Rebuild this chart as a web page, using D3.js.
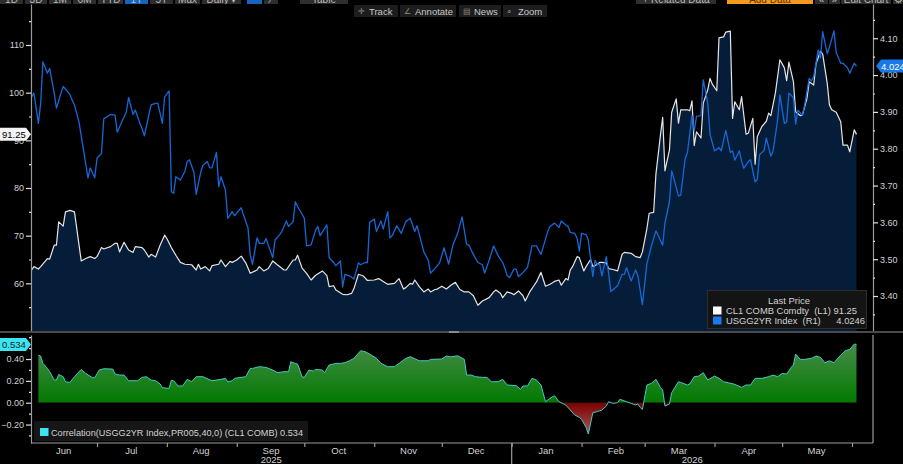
<!DOCTYPE html>
<html>
<head>
<meta charset="utf-8">
<script src="https://cdn.jsdelivr.net/npm/d3@7"></script>
<style>
body { margin: 0; background: #000; }
svg { display: block; font-family: "Liberation Sans", Arial, sans-serif; }
.pre { white-space: pre; }
</style>
</head>
<body>
<svg id="chart" width="903" height="464"></svg>
<script>
// CL1 COMB Comdty (left axis)
var cl1 = [
  ["2025-06-02",62.8],["2025-06-03",63.5],["2025-06-05",63.0],["2025-06-06",63.5],["2025-06-09",65.2],["2025-06-10",65.1],
  ["2025-06-12",68.0],["2025-06-13",68.0],["2025-06-14",72.9],["2025-06-16",72.0],["2025-06-17",75.0],["2025-06-19",75.3],
  ["2025-06-21",75.0],["2025-06-24",64.7],["2025-06-26",65.2],["2025-06-28",65.6],["2025-06-30",65.2],["2025-07-01",65.6],
  ["2025-07-03",67.5],["2025-07-04",67.2],["2025-07-07",67.7],["2025-07-09",68.4],["2025-07-10",68.4],["2025-07-11",66.6],
  ["2025-07-13",68.6],["2025-07-15",67.0],["2025-07-17",66.5],["2025-07-18",67.7],["2025-07-21",67.5],["2025-07-22",67.0],
  ["2025-07-24",65.5],["2025-07-25",66.1],["2025-07-27",65.5],["2025-07-29",68.0],["2025-07-31",70.1],["2025-08-01",69.4],
  ["2025-08-03",67.5],["2025-08-05",65.9],["2025-08-07",64.4],["2025-08-09",64.0],["2025-08-12",63.9],["2025-08-14",62.8],
  ["2025-08-15",64.0],["2025-08-16",63.0],["2025-08-18",63.5],["2025-08-20",62.6],["2025-08-21",63.7],["2025-08-24",64.0],
  ["2025-08-25",64.9],["2025-08-27",63.5],["2025-08-29",64.6],["2025-08-30",64.4],["2025-09-01",64.9],["2025-09-03",65.7],
  ["2025-09-05",64.3],["2025-09-07",62.1],["2025-09-10",62.8],["2025-09-11",63.5],["2025-09-13",62.6],["2025-09-15",63.1],
  ["2025-09-17",64.7],["2025-09-19",63.9],["2025-09-22",62.8],["2025-09-23",62.8],["2025-09-26",64.9],["2025-09-27",64.9],
  ["2025-09-28",65.9],["2025-09-30",63.2],["2025-10-02",62.1],["2025-10-04",60.7],["2025-10-06",61.7],["2025-10-09",62.6],
  ["2025-10-11",61.6],["2025-10-12",59.3],["2025-10-14",59.5],["2025-10-15",58.6],["2025-10-18",57.7],["2025-10-20",57.6],
  ["2025-10-22",57.9],["2025-10-23",58.9],["2025-10-25",61.9],["2025-10-27",61.6],["2025-10-29",60.6],["2025-11-01",60.7],
  ["2025-11-03",61.0],["2025-11-05",60.4],["2025-11-07",59.8],["2025-11-10",60.0],["2025-11-12",61.0],["2025-11-14",58.8],
  ["2025-11-15",59.1],["2025-11-17",60.0],["2025-11-18",59.8],["2025-11-19",60.7],["2025-11-21",59.3],["2025-11-23",58.2],
  ["2025-11-25",58.8],["2025-11-26",58.2],["2025-11-28",58.7],["2025-11-29",58.8],["2025-12-01",59.4],["2025-12-03",58.8],
  ["2025-12-05",59.6],["2025-12-07",60.2],["2025-12-09",58.7],["2025-12-11",58.2],["2025-12-13",58.2],["2025-12-15",57.4],
  ["2025-12-17",55.4],["2025-12-19",56.3],["2025-12-22",57.0],["2025-12-24",58.2],["2025-12-25",58.6],["2025-12-27",57.9],
  ["2025-12-28",57.0],["2025-12-30",58.2],["2026-01-01",57.9],["2026-01-02",57.6],["2026-01-04",58.4],["2026-01-06",57.4],
  ["2026-01-07",56.3],["2026-01-09",58.2],["2026-01-11",59.6],["2026-01-12",60.3],["2026-01-14",62.3],["2026-01-16",59.4],
  ["2026-01-18",59.8],["2026-01-20",60.4],["2026-01-22",60.7],["2026-01-23",59.6],["2026-01-25",61.0],["2026-01-26",60.7],
  ["2026-01-27",62.8],["2026-01-28",63.5],["2026-01-30",65.6],["2026-01-31",65.4],["2026-02-02",62.6],["2026-02-03",63.5],
  ["2026-02-05",65.0],["2026-02-06",63.5],["2026-02-08",64.0],["2026-02-09",64.4],["2026-02-10",64.4],["2026-02-12",64.3],
  ["2026-02-13",63.1],["2026-02-15",62.9],["2026-02-17",62.6],["2026-02-19",66.1],["2026-02-20",66.5],["2026-02-23",66.3],
  ["2026-02-25",65.6],["2026-02-27",65.4],["2026-02-28",66.6],["2026-03-02",71.5],["2026-03-03",74.7],["2026-03-05",74.9],
  ["2026-03-06",82.9],["2026-03-08",91.1],["2026-03-09",94.8],["2026-03-10",83.6],["2026-03-12",88.0],["2026-03-13",95.9],
  ["2026-03-15",98.7],["2026-03-16",93.6],["2026-03-17",96.4],["2026-03-20",96.4],["2026-03-21",96.2],["2026-03-22",98.3],
  ["2026-03-23",88.9],["2026-03-24",91.8],["2026-03-26",90.5],["2026-03-27",97.8],["2026-03-29",100.6],["2026-03-30",103.0],
  ["2026-03-31",101.8],["2026-04-02",100.4],["2026-04-03",111.5],["2026-04-05",111.7],["2026-04-06",112.7],["2026-04-08",112.9],
  ["2026-04-09",94.6],["2026-04-10",98.1],["2026-04-12",96.4],["2026-04-13",99.2],["2026-04-15",91.3],["2026-04-16",91.5],
  ["2026-04-18",94.6],["2026-04-19",85.0],["2026-04-20",90.8],["2026-04-22",92.9],["2026-04-24",94.0],["2026-04-25",95.7],
  ["2026-04-26",95.2],["2026-04-28",99.9],["2026-04-30",106.9],["2026-05-02",105.2],["2026-05-03",102.5],["2026-05-04",106.4],
  ["2026-05-06",102.3],["2026-05-07",96.0],["2026-05-09",95.2],["2026-05-10",95.3],["2026-05-12",98.8],["2026-05-13",102.3],
  ["2026-05-15",101.6],["2026-05-16",106.0],["2026-05-18",108.7],["2026-05-19",108.1],["2026-05-21",102.0],["2026-05-22",97.4],
  ["2026-05-23",96.4],["2026-05-25",95.9],["2026-05-27",93.9],["2026-05-28",89.0],["2026-05-30",89.0],["2026-05-31",87.6],
  ["2026-06-02",92.2],["2026-06-03",91.25]
];

// USGG2YR Index (right axis)
var usgg2yr = [
  ["2025-06-02",3.941],["2025-06-03",3.951],["2025-06-05",3.869],["2025-06-06",3.923],["2025-06-07",4.036],["2025-06-09",4.005],
  ["2025-06-10",4.018],["2025-06-12",3.951],["2025-06-13",3.910],["2025-06-15",3.951],["2025-06-16",3.969],["2025-06-18",3.955],
  ["2025-06-19",3.946],["2025-06-21",3.919],["2025-06-23",3.873],["2025-06-25",3.797],["2025-06-27",3.721],["2025-06-28",3.748],
  ["2025-06-30",3.721],["2025-07-01",3.774],["2025-07-03",3.787],["2025-07-04",3.881],["2025-07-07",3.893],["2025-07-09",3.891],
  ["2025-07-10",3.845],["2025-07-12",3.873],["2025-07-14",3.899],["2025-07-15",3.939],["2025-07-17",3.893],["2025-07-18",3.905],
  ["2025-07-20",3.869],["2025-07-21",3.855],["2025-07-22",3.835],["2025-07-24",3.891],["2025-07-25",3.919],["2025-07-27",3.923],
  ["2025-07-28",3.923],["2025-07-30",3.869],["2025-07-31",3.941],["2025-08-02",3.957],["2025-08-03",3.683],["2025-08-04",3.679],
  ["2025-08-05",3.724],["2025-08-07",3.715],["2025-08-09",3.738],["2025-08-10",3.765],["2025-08-11",3.770],["2025-08-13",3.736],
  ["2025-08-14",3.676],["2025-08-16",3.736],["2025-08-17",3.755],["2025-08-19",3.765],["2025-08-20",3.748],["2025-08-21",3.748],
  ["2025-08-23",3.790],["2025-08-24",3.697],["2025-08-25",3.724],["2025-08-27",3.688],["2025-08-28",3.611],["2025-08-30",3.629],
  ["2025-08-31",3.618],["2025-09-03",3.640],["2025-09-04",3.620],["2025-09-06",3.585],["2025-09-07",3.511],["2025-09-08",3.486],
  ["2025-09-10",3.558],["2025-09-11",3.543],["2025-09-13",3.543],["2025-09-14",3.556],["2025-09-17",3.504],["2025-09-18",3.552],
  ["2025-09-20",3.566],["2025-09-21",3.575],["2025-09-23",3.604],["2025-09-24",3.589],["2025-09-26",3.602],["2025-09-27",3.656],
  ["2025-09-28",3.643],["2025-09-30",3.622],["2025-10-01",3.611],["2025-10-02",3.536],["2025-10-04",3.539],["2025-10-06",3.579],
  ["2025-10-07",3.589],["2025-10-08",3.564],["2025-10-11",3.593],["2025-10-12",3.504],["2025-10-14",3.491],["2025-10-15",3.482],
  ["2025-10-17",3.495],["2025-10-18",3.425],["2025-10-19",3.459],["2025-10-21",3.455],["2025-10-23",3.446],["2025-10-25",3.490],
  ["2025-10-26",3.485],["2025-10-28",3.491],["2025-10-29",3.491],["2025-10-30",3.600],["2025-11-01",3.609],["2025-11-02",3.575],
  ["2025-11-04",3.604],["2025-11-05",3.582],["2025-11-07",3.629],["2025-11-08",3.558],["2025-11-09",3.564],["2025-11-11",3.591],
  ["2025-11-13",3.570],["2025-11-15",3.602],["2025-11-17",3.611],["2025-11-19",3.575],["2025-11-20",3.591],["2025-11-23",3.520],
  ["2025-11-25",3.497],["2025-11-26",3.462],["2025-11-28",3.475],["2025-11-30",3.490],["2025-12-02",3.531],["2025-12-04",3.487],
  ["2025-12-06",3.540],["2025-12-08",3.570],["2025-12-10",3.615],["2025-12-12",3.540],["2025-12-13",3.538],["2025-12-15",3.513],
  ["2025-12-17",3.491],["2025-12-19",3.485],["2025-12-20",3.462],["2025-12-22",3.497],["2025-12-24",3.536],["2025-12-26",3.509],
  ["2025-12-28",3.491],["2025-12-29",3.475],["2025-12-30",3.455],["2025-12-31",3.450],["2026-01-02",3.473],["2026-01-03",3.473],
  ["2026-01-04",3.453],["2026-01-06",3.464],["2026-01-08",3.477],["2026-01-10",3.536],["2026-01-12",3.536],["2026-01-14",3.513],
  ["2026-01-17",3.575],["2026-01-18",3.589],["2026-01-20",3.598],["2026-01-22",3.586],["2026-01-23",3.604],["2026-01-25",3.593],
  ["2026-01-26",3.589],["2026-01-27",3.573],["2026-01-29",3.570],["2026-01-30",3.557],["2026-01-31",3.522],["2026-02-01",3.570],
  ["2026-02-03",3.567],["2026-02-04",3.552],["2026-02-06",3.453],["2026-02-07",3.497],["2026-02-08",3.485],["2026-02-09",3.488],
  ["2026-02-10",3.455],["2026-02-12",3.507],["2026-02-13",3.462],["2026-02-14",3.412],["2026-02-17",3.428],["2026-02-19",3.459],
  ["2026-02-20",3.459],["2026-02-21",3.477],["2026-02-23",3.441],["2026-02-25",3.471],["2026-02-26",3.455],["2026-02-28",3.377],
  ["2026-03-02",3.488],["2026-03-04",3.536],["2026-03-06",3.577],["2026-03-09",3.538],["2026-03-10",3.598],["2026-03-12",3.656],
  ["2026-03-13",3.740],["2026-03-14",3.718],["2026-03-16",3.672],["2026-03-17",3.674],["2026-03-19",3.774],["2026-03-20",3.790],
  ["2026-03-22",3.890],["2026-03-23",3.848],["2026-03-24",3.888],["2026-03-26",3.890],["2026-03-27",3.987],["2026-03-29",3.923],
  ["2026-03-30",3.839],["2026-04-01",3.794],["2026-04-03",3.803],["2026-04-04",3.794],["2026-04-06",3.850],["2026-04-08",3.790],
  ["2026-04-09",3.794],["2026-04-10",3.769],["2026-04-12",3.794],["2026-04-13",3.767],["2026-04-14",3.747],["2026-04-16",3.765],
  ["2026-04-17",3.770],["2026-04-19",3.710],["2026-04-20",3.717],["2026-04-21",3.784],["2026-04-23",3.795],["2026-04-24",3.829],
  ["2026-04-26",3.780],["2026-04-27",3.794],["2026-04-29",3.878],["2026-04-30",3.946],["2026-05-02",3.869],["2026-05-03",3.872],
  ["2026-05-04",3.951],["2026-05-06",3.939],["2026-05-07",3.867],["2026-05-08",3.905],["2026-05-10",3.891],["2026-05-11",3.919],
  ["2026-05-13",3.991],["2026-05-14",3.984],["2026-05-15",3.996],["2026-05-17",4.068],["2026-05-18",4.047],["2026-05-19",4.118],
  ["2026-05-21",4.058],["2026-05-22",4.076],["2026-05-24",4.120],["2026-05-25",4.061],["2026-05-27",4.032],["2026-05-28",4.032],
  ["2026-05-30",4.020],["2026-05-31",4.005],["2026-06-02",4.032],["2026-06-03",4.0246]
];

// rolling 40-day correlation (lower panel)
var correlation = [
  ["2025-06-05",0.436],["2025-06-06",0.427],["2025-06-07",0.360],["2025-06-09",0.314],["2025-06-10",0.284],["2025-06-12",0.207],
  ["2025-06-13",0.207],["2025-06-14",0.259],["2025-06-16",0.238],["2025-06-17",0.192],["2025-06-19",0.186],["2025-06-21",0.238],
  ["2025-06-24",0.305],["2025-06-26",0.268],["2025-06-29",0.229],["2025-06-30",0.229],["2025-07-02",0.299],["2025-07-04",0.311],
  ["2025-07-08",0.308],["2025-07-09",0.262],["2025-07-11",0.253],["2025-07-13",0.253],["2025-07-15",0.201],["2025-07-19",0.201],
  ["2025-07-21",0.232],["2025-07-23",0.238],["2025-07-25",0.207],["2025-07-27",0.201],["2025-07-29",0.171],["2025-07-30",0.137],
  ["2025-08-02",0.131],["2025-08-03",0.207],["2025-08-04",0.201],["2025-08-06",0.153],["2025-08-08",0.153],["2025-08-10",0.214],
  ["2025-08-12",0.192],["2025-08-14",0.238],["2025-08-17",0.238],["2025-08-21",0.201],["2025-08-25",0.214],["2025-08-27",0.223],
  ["2025-08-28",0.192],["2025-08-30",0.201],["2025-08-31",0.223],["2025-09-05",0.238],["2025-09-07",0.314],["2025-09-08",0.314],
  ["2025-09-11",0.330],["2025-09-14",0.323],["2025-09-17",0.299],["2025-09-19",0.275],["2025-09-22",0.284],["2025-09-24",0.284],
  ["2025-09-25",0.375],["2025-09-27",0.360],["2025-09-28",0.354],["2025-09-30",0.238],["2025-10-01",0.232],["2025-10-03",0.299],
  ["2025-10-05",0.290],["2025-10-06",0.305],["2025-10-09",0.299],["2025-10-10",0.275],["2025-10-12",0.345],["2025-10-15",0.360],
  ["2025-10-17",0.360],["2025-10-19",0.366],["2025-10-21",0.384],["2025-10-23",0.406],["2025-10-26",0.476],["2025-10-28",0.467],
  ["2025-10-30",0.445],["2025-11-02",0.406],["2025-11-04",0.360],["2025-11-07",0.330],["2025-11-10",0.330],["2025-11-12",0.360],
  ["2025-11-15",0.406],["2025-11-17",0.421],["2025-11-21",0.384],["2025-11-25",0.384],["2025-11-26",0.397],["2025-12-01",0.400],
  ["2025-12-03",0.427],["2025-12-05",0.420],["2025-12-08",0.430],["2025-12-11",0.397],["2025-12-12",0.253],["2025-12-14",0.253],
  ["2025-12-16",0.238],["2025-12-19",0.232],["2025-12-21",0.232],["2025-12-23",0.192],["2025-12-26",0.192],["2025-12-28",0.214],
  ["2025-12-30",0.162],["2026-01-03",0.156],["2026-01-05",0.122],["2026-01-06",0.153],["2026-01-08",0.153],["2026-01-10",0.223],
  ["2026-01-12",0.207],["2026-01-14",0.162],["2026-01-16",0.009],["2026-01-18",0.040],["2026-01-20",0.064],["2026-01-22",0.009],
  ["2026-01-25",-0.021],["2026-01-27",-0.067],["2026-01-29",-0.113],["2026-01-31",-0.134],["2026-02-01",-0.153],["2026-02-03",-0.226],
  ["2026-02-04",-0.287],["2026-02-06",-0.092],["2026-02-08",-0.082],["2026-02-10",-0.067],["2026-02-12",-0.031],["2026-02-13",0.009],
  ["2026-02-15",-0.006],["2026-02-17",0.000],["2026-02-18",0.031],["2026-02-21",0.009],["2026-02-23",-0.006],["2026-02-25",-0.021],
  ["2026-02-26",-0.012],["2026-02-27",-0.043],["2026-02-28",-0.061],["2026-03-02",0.162],["2026-03-04",0.177],["2026-03-06",0.214],
  ["2026-03-08",0.140],["2026-03-09",0.116],["2026-03-10",-0.031],["2026-03-12",-0.012],["2026-03-13",0.092],["2026-03-16",0.192],
  ["2026-03-17",0.186],["2026-03-20",0.162],["2026-03-21",0.171],["2026-03-23",0.238],["2026-03-25",0.244],["2026-03-27",0.275],
  ["2026-03-29",0.207],["2026-04-01",0.244],["2026-04-03",0.223],["2026-04-05",0.192],["2026-04-07",0.183],["2026-04-10",0.168],
  ["2026-04-13",0.140],["2026-04-15",0.162],["2026-04-17",0.162],["2026-04-19",0.223],["2026-04-22",0.223],["2026-04-25",0.238],
  ["2026-04-27",0.253],["2026-04-29",0.238],["2026-05-01",0.268],["2026-05-03",0.262],["2026-05-05",0.323],["2026-05-06",0.345],
  ["2026-05-07",0.445],["2026-05-09",0.397],["2026-05-11",0.397],["2026-05-14",0.406],["2026-05-16",0.427],["2026-05-18",0.415],
  ["2026-05-20",0.366],["2026-05-22",0.384],["2026-05-24",0.366],["2026-05-27",0.436],["2026-05-29",0.476],["2026-05-31",0.488],
  ["2026-06-02",0.537],["2026-06-03",0.534]
];

var monthStarts = ["2025-07-01","2025-08-01","2025-09-01","2025-10-01","2025-11-01","2025-12-01",
                   "2026-01-01","2026-02-01","2026-03-01","2026-04-01","2026-05-01","2026-06-01"];
var monthLabels = ["Jun","Jul","Aug","Sep","Oct","Nov","Dec","Jan","Feb","Mar","Apr","May"];
var monthLabelDates = ["2025-06-16","2025-07-16","2025-08-16","2025-09-16","2025-10-16","2025-11-16",
                       "2025-12-16","2026-01-16","2026-02-16","2026-03-16","2026-04-16","2026-05-16"];
var years = ["2025", "2026"];
var leftTicks = [60, 70, 80, 90, 100, 110];
var leftMinorTicks = [50, 55, 65, 75, 85, 95, 105, 115];
var rightTicks = [3.40, 3.50, 3.60, 3.70, 3.80, 3.90, 4.00, 4.10];
var rightMinorTicks = [3.35, 3.45, 3.55, 3.65, 3.75, 3.85, 3.95, 4.05, 4.15];
var corrTicks = [-0.20, 0, 0.20, 0.40];
var corrMinorTicks = [-0.30, -0.10, 0.10, 0.30, 0.50, 0.60];

var seriesNames = ["CL1 COMB Comdty", "USGG2YR Index"];
var seriesAxes = ["(L1)", "(R1)"];
var corrName = "Correlation(USGG2YR Index,PR005,40,0) (CL1 COMB)";

(function () {
    "use strict";

    var W = 903, H = 464;
    var axL = 31, axR = 873;
    var mainTop = 4, mainBot = 331;
    var lowTop = 335, lowBot = 443;
    var txt = "#d2d2d2";

    var parse = d3.timeParse("%Y-%m-%d");
    function prep(arr) {
        return arr.map(function (d) { return {date: parse(d[0]), v: d[1]}; });
    }
    var cl1Data = prep(cl1);
    var usData = prep(usgg2yr);
    var corrData = prep(correlation);

    var svg = d3.select("#chart");
    svg.append("rect").attr("width", W).attr("height", H).attr("fill", "#000");

    var x = d3.scaleTime()
        .domain([parse("2025-07-01"), parse("2026-06-01")])
        .range([97, 852]);
    var yL = d3.scaleLinear().domain([50, 118.6]).range([mainBot, mainTop]);
    var yR = d3.scaleLinear().domain([3.305, 4.193]).range([mainBot, mainTop]);
    var yC = d3.scaleLinear().domain([-0.369, 0.62]).range([lowBot, lowTop]);

    // text squeezed to the width the terminal font takes
    function fitText(g, t, x0, y0, len, size, col) {
        return g.append("text").attr("class", "pre").attr("x", x0).attr("y", y0)
            .attr("font-size", size).attr("fill", col)
            .attr("textLength", len).attr("lengthAdjust", "spacingAndGlyphs").text(t);
    }

    // ---- top toolbar (cut off by the window) ----
    var bar = svg.append("g");
    var topButtons = [
        {t: "1D", a: 0, b: 23}, {t: "3D", a: 25, b: 47}, {t: "1M", a: 49, b: 71}, {t: "6M", a: 73, b: 96},
        {t: "YTD", a: 98, b: 123}, {t: "1Y", a: 125, b: 148, on: true}, {t: "5Y", a: 150, b: 173},
        {t: "Max", a: 175, b: 200}, {t: "Daily \u25BE", a: 202, b: 241}, {t: "", a: 247, b: 262, on: true},
        {t: "\u2215", a: 264, b: 278}, {t: "Table", a: 300, b: 348},
        {t: "+ Related Data", a: 636, b: 716}, {t: "Add Data", a: 727, b: 813, orange: true},
        {t: "\u00AB", a: 815, b: 828}, {t: "\u00BB", a: 829, b: 840}, {t: "Edit Chart", a: 841, b: 891},
        {t: "\u2699", a: 893, b: 903}
    ];
    topButtons.forEach(function (d) {
        bar.append("rect").attr("x", d.a).attr("y", -10).attr("width", d.b - d.a).attr("height", 14)
            .attr("fill", d.orange ? "#f39a1e" : (d.on ? "#1565c0" : "#2e2e2e"));
        bar.append("text").attr("x", (d.a + d.b) / 2).attr("y", 2.5)
            .attr("text-anchor", "middle").attr("font-size", 10)
            .attr("fill", d.orange ? "#5a3000" : "#bbbbbb").text(d.t);
    });
    svg.append("rect").attr("x", 0).attr("y", 4).attr("width", W).attr("height", 1).attr("fill", "#000");

    // ---- main panel: CL1 area + lines ----
    var main = svg.append("g");
    main.append("path").datum(cl1Data)
        .attr("fill", "#061d39")
        .attr("d", d3.area().x(function (d) { return x(d.date); })
            .y0(mainBot).y1(function (d) { return yL(d.v); }));
    main.append("path").datum(cl1Data)
        .attr("fill", "none").attr("stroke", "#e6e6e6").attr("stroke-width", 1.2)
        .attr("stroke-linejoin", "round")
        .attr("d", d3.line().x(function (d) { return x(d.date); }).y(function (d) { return yL(d.v); }));
    main.append("path").datum(usData)
        .attr("fill", "none").attr("stroke", "#1668d8").attr("stroke-width", 1.3)
        .attr("stroke-linejoin", "round")
        .attr("d", d3.line().x(function (d) { return x(d.date); }).y(function (d) { return yR(d.v); }));

    // ---- axes helpers ----
    function styleAxis(g) {
        g.select(".domain").attr("stroke", "#9a9a9a").attr("stroke-width", 1.2);
        g.selectAll(".tick line").attr("stroke", "#e0e0e0").attr("stroke-width", 1.2);
        g.selectAll(".tick text").attr("fill", txt).attr("font-size", 9)
            .attr("font-family", "'Liberation Sans', Arial, sans-serif");
    }
    function drawAxis(axisFn, scale, pos, majors, minors, fmt) {
        var gm = svg.append("g").attr("transform", "translate(" + pos + ",0)");
        gm.call(axisFn(scale).tickValues(minors).tickSize(2).tickSizeOuter(0).tickFormat(""));
        styleAxis(gm);
        var g = svg.append("g").attr("transform", "translate(" + pos + ",0)");
        g.call(axisFn(scale).tickValues(majors).tickSize(5).tickPadding(2).tickSizeOuter(0).tickFormat(fmt));
        styleAxis(g);
        g.select(".domain").remove();
        return g;
    }
    drawAxis(d3.axisLeft, yL, axL, leftTicks, leftMinorTicks, d3.format("d"));
    drawAxis(d3.axisRight, yR, axR, rightTicks, rightMinorTicks, d3.format(".2f"));

    // ---- main legend ----
    var lg = svg.append("g");
    lg.append("rect").attr("x", 707.5).attr("y", 290.5).attr("width", 159).attr("height", 38)
        .attr("fill", "#141414").attr("stroke", "#2c2c2c");
    fitText(lg, "Last Price", 768, 303.5, 42, 9.5, txt);
    var lastVals = [cl1[cl1.length - 1][1], usgg2yr[usgg2yr.length - 1][1]];
    var sw = ["#ffffff", "#1a78f0"];
    var gaps = [" ", "      "], rowLen = [131, 139];
    seriesNames.forEach(function (n, i) {
        var yy = 306.5 + i * 10;
        lg.append("rect").attr("x", 713).attr("y", yy).attr("width", 8.5).attr("height", 8).attr("fill", sw[i]);
        fitText(lg, n + "  " + seriesAxes[i] + gaps[i] + String(lastVals[i]), 726, yy + 7.3, rowLen[i], 9.5, txt);
    });

    // ---- last value tags ----
    var yl = yL(lastVals[0]);
    svg.append("path").attr("d", "M0," + (yl - 6.5) + "H26L31," + yl + "L26," + (yl + 6.5) + "H0Z")
        .attr("fill", "#f4f4f4");
    svg.append("text").attr("x", 2).attr("y", yl + 3.5).attr("font-size", 9.5).attr("fill", "#000")
        .text(d3.format(".2f")(lastVals[0]));
    var yr = yR(lastVals[1]);
    svg.append("path").attr("d", "M" + (axR + 3) + "," + yr + "L" + (axR + 8) + "," + (yr - 6.5) + "H903V" + (yr + 6.5) + "H" + (axR + 8) + "Z")
        .attr("fill", "#1a78e6");
    svg.append("text").attr("x", axR + 8).attr("y", yr + 3.5).attr("font-size", 9.5).attr("fill", "#fff")
        .text(String(lastVals[1]));

    // ---- splitter between panels ----
    svg.append("rect").attr("x", 0).attr("y", 331).attr("width", W).attr("height", 2).attr("fill", "#4a4a4a");
    svg.append("rect").attr("x", 449).attr("y", 331).attr("width", 10).attr("height", 2).attr("fill", "#8a8a8a");

    // ---- lower panel: correlation ----
    var defs = svg.append("defs");
    var gp = defs.append("linearGradient").attr("id", "gPos").attr("gradientUnits", "userSpaceOnUse")
        .attr("x1", 0).attr("x2", 0).attr("y1", yC(0.55)).attr("y2", yC(0));
    gp.append("stop").attr("offset", "0%").attr("stop-color", "#4a8c4a");
    gp.append("stop").attr("offset", "100%").attr("stop-color", "#017a01");
    var gn = defs.append("linearGradient").attr("id", "gNeg").attr("gradientUnits", "userSpaceOnUse")
        .attr("x1", 0).attr("x2", 0).attr("y1", yC(0)).attr("y2", yC(-0.3));
    gn.append("stop").attr("offset", "0%").attr("stop-color", "#7a0000");
    gn.append("stop").attr("offset", "100%").attr("stop-color", "#a85a5a");
    defs.append("clipPath").attr("id", "cPos").append("rect")
        .attr("x", 0).attr("y", lowTop).attr("width", W).attr("height", yC(0) - lowTop);
    defs.append("clipPath").attr("id", "cNeg").append("rect")
        .attr("x", 0).attr("y", yC(0)).attr("width", W).attr("height", lowBot - yC(0));

    var corrArea = d3.area().x(function (d) { return x(d.date); })
        .y0(yC(0)).y1(function (d) { return yC(d.v); });
    svg.append("path").datum(corrData).attr("clip-path", "url(#cPos)")
        .attr("fill", "url(#gPos)").attr("d", corrArea);
    svg.append("path").datum(corrData).attr("clip-path", "url(#cNeg)")
        .attr("fill", "url(#gNeg)").attr("d", corrArea);
    svg.append("path").datum(corrData)
        .attr("fill", "none").attr("stroke", "#45c8c8").attr("stroke-width", 1)
        .attr("d", d3.line().x(function (d) { return x(d.date); }).y(function (d) { return yC(d.v); }));

    drawAxis(d3.axisLeft, yC, axL, corrTicks, corrMinorTicks, d3.format(".2f"));
    svg.append("line").attr("x1", axR).attr("x2", axR).attr("y1", lowTop).attr("y2", lowBot)
        .attr("stroke", "#9a9a9a").attr("stroke-width", 1.2);
    svg.append("line").attr("x1", axL).attr("x2", axR).attr("y1", lowBot).attr("y2", lowBot)
        .attr("stroke", "#9a9a9a").attr("stroke-width", 1.2);

    // correlation tag
    var lastCorr = correlation[correlation.length - 1][1];
    var yc = yC(lastCorr);
    svg.append("path").attr("d", "M0," + (yc - 6.5) + "H26L31," + yc + "L26," + (yc + 6.5) + "H0Z")
        .attr("fill", "#3fe3f0");
    svg.append("text").attr("x", 2).attr("y", yc + 3.5).attr("font-size", 9.5).attr("fill", "#06262a")
        .text(d3.format(".3f")(lastCorr));

    // correlation legend
    svg.append("rect").attr("x", 34).attr("y", 421).attr("width", 274).attr("height", 20).attr("fill", "#161616");
    svg.append("rect").attr("x", 40).attr("y", 428).attr("width", 8.5).attr("height", 8).attr("fill", "#3fe3f0");
    fitText(svg, corrName + " " + d3.format(".3f")(lastCorr), 51, 435.5, 252, 9.5, txt);

    // ---- x axis ----
    var xt = svg.append("g").attr("transform", "translate(0," + lowBot + ")");
    xt.call(d3.axisBottom(x).tickValues(monthStarts.map(parse)).tickSize(4).tickFormat(""));
    xt.select(".domain").remove();
    xt.selectAll(".tick line").attr("stroke", "#9a9a9a").attr("stroke-width", 1.2);
    var xl = svg.append("g").attr("transform", "translate(0," + lowBot + ")");
    xl.call(d3.axisBottom(x).tickValues(monthLabelDates.map(parse)).tickSize(0).tickPadding(4)
        .tickFormat(function (d, i) { return monthLabels[i]; }));
    xl.select(".domain").remove();
    xl.selectAll(".tick text").attr("fill", txt).attr("font-size", 9.5)
        .attr("font-family", "'Liberation Sans', Arial, sans-serif");

    var jan = x(parse("2026-01-01"));
    svg.append("line").attr("x1", jan).attr("x2", jan).attr("y1", lowBot).attr("y2", H)
        .attr("stroke", "#9a9a9a").attr("stroke-width", 1.2);
    var yearX = [(axL + jan) / 2, (jan + axR) / 2];
    years.forEach(function (yv, i) {
        svg.append("text").attr("x", yearX[i]).attr("y", 463).attr("text-anchor", "middle")
            .attr("font-size", 9.5).attr("fill", txt).text(yv);
    });

    // ---- chart tool buttons ----
    var tools = [
        {t: "Track", a: 354, b: 398, icon: "\u271B"},
        {t: "Annotate", a: 400, b: 456, icon: "\u2220"},
        {t: "News", a: 459, b: 501, icon: "\u25A4"},
        {t: "Zoom", a: 503, b: 547, icon: "\u2315"}
    ];
    tools.forEach(function (d) {
        svg.append("rect").attr("x", d.a).attr("y", 5).attr("width", d.b - d.a).attr("height", 12)
            .attr("fill", "#1d1d1d");
        svg.append("text").attr("x", d.a + 4).attr("y", 14).attr("font-size", 8).attr("fill", "#8a8a8a")
            .text(d.icon);
        svg.append("text").attr("x", d.a + 15).attr("y", 14.5).attr("font-size", 9.5).attr("fill", "#c8c8c8")
            .text(d.t);
    });
})();
</script>
</body>
</html>
